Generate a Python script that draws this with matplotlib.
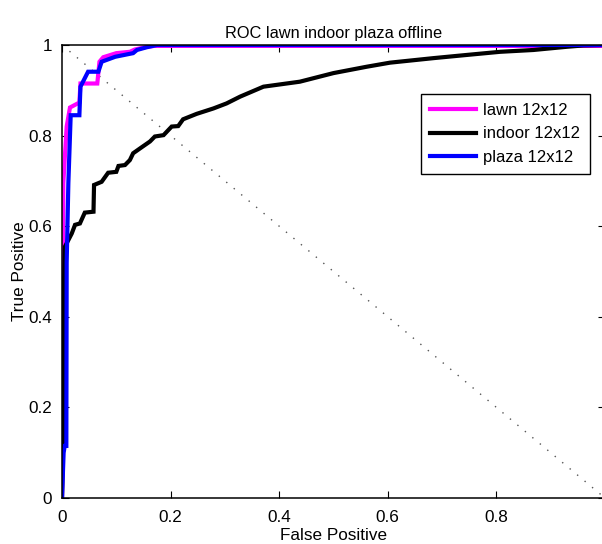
import matplotlib
matplotlib.use("Agg")
import matplotlib.pyplot as plt

plt.rcParams['font.family'] = ['Liberation Sans', 'DejaVu Sans']

# ROC curves (false positive rate, true positive rate)
lawn_fp = [0.0, 0.001, 0.0024, 0.0086, 0.0147, 0.032, 0.034, 0.065, 0.069, 0.076,
           0.10, 0.125, 0.134, 0.156, 0.17, 1.0]
lawn_tp = [0.0, 0.3, 0.695, 0.82, 0.862, 0.873, 0.915, 0.915, 0.963, 0.973,
           0.982, 0.985, 0.99, 0.996, 0.998, 0.998]

indoor_fp = [0.0, 0.002, 0.003, 0.0055, 0.018, 0.024, 0.033, 0.042, 0.058, 0.059,
             0.073, 0.085, 0.10, 0.104, 0.116, 0.125, 0.131, 0.144, 0.162, 0.171,
             0.187, 0.202, 0.214, 0.223, 0.248, 0.279, 0.303, 0.328, 0.371, 0.438,
             0.50, 0.561, 0.604, 0.684, 0.745, 0.807, 0.868, 0.929, 0.96, 1.0]
indoor_tp = [0.0, 0.117, 0.45, 0.555, 0.584, 0.603, 0.606, 0.63, 0.632, 0.691,
             0.698, 0.718, 0.72, 0.733, 0.735, 0.746, 0.761, 0.772, 0.787, 0.798,
             0.801, 0.82, 0.821, 0.836, 0.848, 0.86, 0.871, 0.886, 0.908, 0.919,
             0.938, 0.952, 0.961, 0.971, 0.978, 0.985, 0.989, 0.996, 0.999, 1.0]

plaza_fp = [0.0, 0.003, 0.005, 0.008, 0.0086, 0.0117, 0.016, 0.032, 0.034, 0.048,
            0.067, 0.073, 0.098, 0.131, 0.138, 0.156, 0.175, 1.0]
plaza_tp = [0.0, 0.10, 0.115, 0.115, 0.52, 0.695, 0.845, 0.845, 0.908, 0.941,
            0.941, 0.963, 0.974, 0.982, 0.989, 0.995, 1.0, 1.0]

labels = ['lawn 12x12', 'indoor 12x12', 'plaza 12x12']
colors = ['#ff00ff', '#000000', '#0000ff']
x_ticks = [0, 0.2, 0.4, 0.6, 0.8, 1]
y_ticks = [0, 0.2, 0.4, 0.6, 0.8, 1]
tick_text = ['0', '0.2', '0.4', '0.6', '0.8', '1']

fig = plt.figure(figsize=(6.02, 5.44), dpi=100)
ax = fig.add_axes([62 / 602, 46 / 544, 543 / 602, 453 / 544])

# chance diagonal
ax.plot([0, 1], [1, 0], linestyle=(0, (1, 6)), color='#555555', linewidth=1.0)

for fp, tp, lab, col in zip([lawn_fp, indoor_fp, plaza_fp],
                            [lawn_tp, indoor_tp, plaza_tp], labels, colors):
    ax.plot(fp, tp, color=col, linewidth=3.0, label=lab, solid_joinstyle='miter')

ax.set_xlim(0, 1)
ax.set_ylim(0, 1)
ax.set_xticks(x_ticks)
ax.set_yticks(y_ticks)
ax.set_xticklabels(tick_text)
ax.set_yticklabels(tick_text)
ax.tick_params(direction='in', length=5, width=0.8, top=True, right=True,
               labelsize=12.3)
ax.tick_params(axis='x', pad=8.5)
ax.tick_params(axis='y', pad=7)
for s in ax.spines.values():
    s.set_linewidth(1.1)

ax.set_title('ROC lawn indoor plaza offline', fontsize=11.8, pad=5)
ax.set_xlabel('False Positive', fontsize=12.3, labelpad=2)
ax.set_ylabel('True Positive', fontsize=12.3, labelpad=1)

leg = ax.legend(loc='upper left', bbox_to_anchor=(0.661, 0.892), borderaxespad=0,
                fancybox=False, edgecolor='black', framealpha=1, fontsize=12,
                handlelength=2.75, handletextpad=0.45, labelspacing=0.5,
                borderpad=0.55)
leg.get_frame().set_linewidth(1.0)

fig.savefig('out.png', dpi=100)
